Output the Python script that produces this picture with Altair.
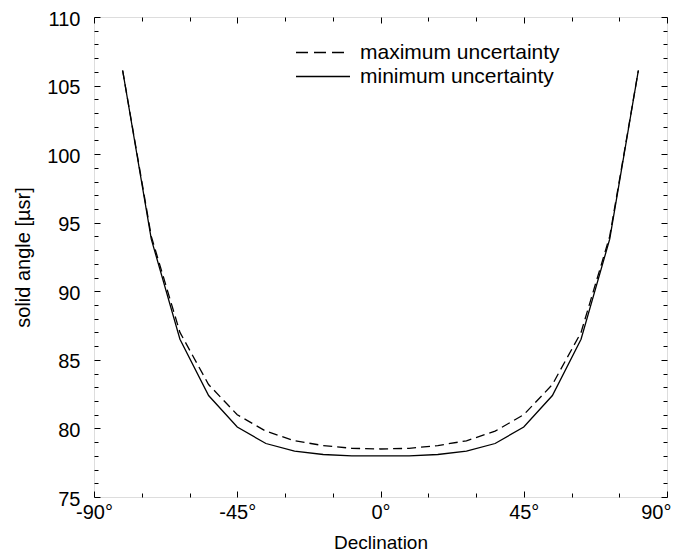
import altair as alt
import pandas as pd

# Data
declination = [-81, -72, -63, -54, -45, -36, -27, -18, -9, 0,
               9, 18, 27, 36, 45, 54, 63, 72, 81]
max_uncertainty = [106.1, 94.0, 87.0, 83.2, 81.0, 79.8, 79.1, 78.75, 78.55, 78.5,
                   78.55, 78.75, 79.1, 79.8, 81.0, 83.2, 87.0, 94.0, 106.1]
min_uncertainty = [106.1, 93.8, 86.5, 82.4, 80.1, 78.9, 78.35, 78.1, 78.0, 78.0,
                   78.0, 78.1, 78.35, 78.9, 80.1, 82.4, 86.5, 93.8, 106.1]
series_names = ["maximum uncertainty", "minimum uncertainty"]

x_major = [-90, -45, 0, 45, 90]
x_ticks = list(range(-90, 91, 15))
y_major = list(range(75, 111, 5))
y_ticks = list(range(75, 111, 1))

W, H = 573, 480
FONT = "Liberation Sans"

df = pd.DataFrame({
    "dec": declination * 2,
    "value": max_uncertainty + min_uncertainty,
    "series": [series_names[0]] * len(declination) + [series_names[1]] * len(declination),
})

xs = alt.Scale(domain=[-90, 90], nice=False, zero=False)
ys = alt.Scale(domain=[75, 110], nice=False, zero=False)

x_tick_size = {"condition": {"test": "datum.value % 45 === 0", "value": 6}, "value": 4}
y_tick_size = {"condition": {"test": "datum.value % 5 === 0", "value": 6}, "value": 4}
x_label_align = {"condition": {"test": "datum.value === 90", "value": "right"}, "value": "center"}
x_label_offset = {"condition": {"test": "datum.value === 90", "value": 4}, "value": 0}

tick_only = dict(labels=False, title=None, domain=False, grid=False,
                 ticks=True, tickColor="black", tickWidth=1)

# Layer 1: solid line, with labelled axes
solid = alt.Chart(df).transform_filter(
    alt.datum.series == series_names[1]
).mark_line(color="black", strokeWidth=1.3).encode(
    x=alt.X("dec:Q", scale=xs, axis=alt.Axis(
        orient="bottom", values=x_major, ticks=False, domain=False, grid=False,
        labelExpr="datum.value + '°'", labelFontSize=20, labelFont=FONT,
        labelColor="black", labelPadding=5, labelFlush=False,
        labelAlign=x_label_align, labelOffset=x_label_offset,
        title="Declination", titleFont=FONT, titleFontSize=19,
        titleFontWeight="normal", titleColor="black",
        titleY=45, titleBaseline="middle")),
    y=alt.Y("value:Q", scale=ys, axis=alt.Axis(
        orient="left", values=y_major, ticks=False, domain=False, grid=False,
        labelFontSize=20, labelFont=FONT, labelColor="black", labelPadding=14,
        labelOffset=2, labelFlush=False,
        title="solid angle [µsr]", titleFont=FONT, titleFontSize=20,
        titleFontWeight="normal", titleColor="black",
        titleX=-71, titleY=H / 2, titleAngle=270,
        titleAlign="center", titleBaseline="middle")),
)

# Layer 2: dashed line, with inward ticks at bottom and left
dashed = alt.Chart(df).transform_filter(
    alt.datum.series == series_names[0]
).mark_line(color="black", strokeWidth=1.3, strokeDash=[9, 5]).encode(
    x=alt.X("dec:Q", scale=xs, axis=alt.Axis(
        orient="top", offset=-H, values=x_ticks, tickSize=x_tick_size, **tick_only)),
    y=alt.Y("value:Q", scale=ys, axis=alt.Axis(
        orient="right", offset=-W, values=y_ticks, tickSize=y_tick_size, **tick_only)),
)

# Layer 3: invisible copy carrying inward ticks at top and right
ghost = alt.Chart(df).transform_filter(
    alt.datum.series == series_names[1]
).mark_line(color="black", strokeOpacity=0).encode(
    x=alt.X("dec:Q", scale=xs, axis=alt.Axis(
        orient="bottom", offset=-H, values=x_ticks, tickSize=x_tick_size, **tick_only)),
    y=alt.Y("value:Q", scale=ys, axis=alt.Axis(
        orient="left", offset=-W, values=y_ticks, tickSize=y_tick_size, **tick_only)),
)

# Manual legend
leg_df_max = pd.DataFrame({"label": [series_names[0]]})
leg_df_min = pd.DataFrame({"label": [series_names[1]]})

leg_rule_max = alt.Chart(leg_df_max).mark_rule(
    color="black", strokeWidth=1.3, strokeDash=[12, 6]).encode(
    x=alt.value(202), x2=alt.value(254), y=alt.value(35.5))
leg_rule_min = alt.Chart(leg_df_min).mark_rule(
    color="black", strokeWidth=1.3).encode(
    x=alt.value(202), x2=alt.value(256), y=alt.value(59.5))
leg_text_max = alt.Chart(leg_df_max).mark_text(
    align="left", baseline="middle", fontSize=21, font=FONT, color="black").encode(
    x=alt.value(266), y=alt.value(35.5), text="label:N")
leg_text_min = alt.Chart(leg_df_min).mark_text(
    align="left", baseline="middle", fontSize=21, font=FONT, color="black").encode(
    x=alt.value(266), y=alt.value(59.5), text="label:N")

chart = alt.layer(
    solid, dashed, ghost, leg_rule_max, leg_rule_min, leg_text_max, leg_text_min
).resolve_axis(
    x="independent", y="independent"
).properties(
    width=W, height=H,
    autosize=alt.AutoSizeParams(type="none"),
    padding={"left": 86, "top": 9, "right": 5, "bottom": 57},
).configure_view(
    stroke="black", strokeWidth=1
).configure(background="white")

chart.save("out.html", embed_options={"renderer": "svg", "actions": False})
